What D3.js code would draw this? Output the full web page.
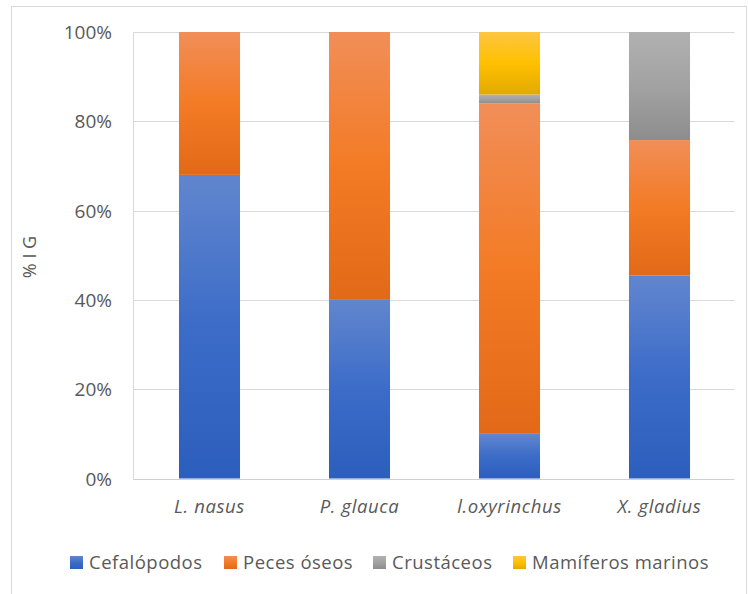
<!DOCTYPE html>
<html lang="es">
  <head>
    <meta charset="UTF-8" />
    <title>% IG por especie</title>
    <script src="https://d3js.org/d3.v7.min.js"></script>
    <style>
      body {
        margin: 0;
        background: #ffffff;
        font-family: "Open Sans", sans-serif;
      }
      text {
        fill: #595959;
      }
    </style>
  </head>
  <body>
    <svg id="chart" width="748" height="594"></svg>

    <script>
      const categories = ["L. nasus", "P. glauca", "l.oxyrinchus", "X. gladius"];
      const seriesNames = ["Cefalópodos", "Peces óseos", "Crustáceos", "Mamíferos marinos"];
      const cefalopodos = [68, 40, 10, 45.5];
      const pecesOseos = [32, 60, 74, 30.3];
      const crustaceos = [0, 0, 2, 24.2];
      const mamiferos = [0, 0, 14, 0];
      const yTicks = [0, 0.2, 0.4, 0.6, 0.8, 1];

      // gradient stops per series: light top, base middle, dark bottom
      const grads = [
        ["#6186ce", "#3c6cc8", "#2c5ebd"],
        ["#f18e58", "#f37b25", "#e26917"],
        ["#b1b1b1", "#a2a2a2", "#8d8d8d"],
        ["#fcc642", "#ffc000", "#e2aa00"],
      ];

      const rows = categories.map((c, i) => ({
        cat: c,
        s0: cefalopodos[i],
        s1: pecesOseos[i],
        s2: crustaceos[i],
        s3: mamiferos[i],
      }));

      const svg = d3.select("#chart");
      const plotL = 134.5, plotR = 734.5, plotT = 32, plotB = 478.5;

      // outer chart frame
      svg.append("rect")
        .attr("x", 11.5).attr("y", 6.5)
        .attr("width", 735).attr("height", 600)
        .attr("fill", "none").attr("stroke", "#d9d9d9");

      const defs = svg.append("defs");
      grads.forEach((g, i) => {
        const lg = defs.append("linearGradient")
          .attr("id", "g" + i)
          .attr("x1", 0).attr("y1", 0).attr("x2", 0).attr("y2", 1);
        lg.append("stop").attr("offset", "0%").attr("stop-color", g[0]);
        lg.append("stop").attr("offset", "50%").attr("stop-color", g[1]);
        lg.append("stop").attr("offset", "100%").attr("stop-color", g[2]);
      });

      const x = d3.scaleBand().domain(categories).range([plotL, plotR])
        .paddingInner(0.593).paddingOuter(0.2965);
      const y = d3.scaleLinear().domain([0, 1]).range([plotB, plotT]);

      // gridlines
      svg.append("g")
        .selectAll("line")
        .data(yTicks.filter((t) => t > 0))
        .join("line")
        .attr("x1", plotL - 1.5).attr("x2", plotR)
        .attr("y1", (d) => Math.round(y(d)) + 0.5)
        .attr("y2", (d) => Math.round(y(d)) + 0.5)
        .attr("stroke", "#d9d9d9");

      svg.append("line")
        .attr("x1", 133.5).attr("x2", 133.5)
        .attr("y1", plotT).attr("y2", plotB)
        .attr("stroke", "#d9d9d9");

      const stack = d3.stack()
        .keys(["s0", "s1", "s2", "s3"])
        .offset(d3.stackOffsetExpand);

      const layers = stack(rows);

      svg.append("g")
        .selectAll("g")
        .data(layers)
        .join("g")
        .attr("fill", (d, i) => "url(#g" + i + ")")
        .selectAll("rect")
        .data((d) => d.filter((p) => p[1] - p[0] > 0))
        .join("rect")
        .attr("x", (d) => x(d.data.cat))
        .attr("width", x.bandwidth())
        .attr("y", (d) => y(d[1]))
        .attr("height", (d) => y(d[0]) - y(d[1]));

      // baseline
      svg.append("line")
        .attr("x1", plotL - 1.5).attr("x2", plotR)
        .attr("y1", Math.round(plotB) + 0.5).attr("y2", Math.round(plotB) + 0.5)
        .attr("stroke", "#d0d0d0");

      // y tick labels
      svg.append("g")
        .selectAll("text")
        .data(yTicks)
        .join("text")
        .attr("x", 112)
        .attr("y", (d) => y(d) + 7)
        .attr("text-anchor", "end")
        .style("font-size", "19px")
        .text(d3.format(".0%"));

      // category labels
      svg.append("g")
        .selectAll("text")
        .data(categories)
        .join("text")
        .attr("x", (d) => x(d) + x.bandwidth() / 2)
        .attr("y", 513)
        .attr("text-anchor", "middle")
        .style("font-size", "18.5px")
        .style("font-style", "italic")
        .style("letter-spacing", "0.6px")
        .text((d) => d);

      // y axis title
      svg.append("text")
        .attr("transform", "translate(36,257) rotate(-90)")
        .attr("text-anchor", "middle")
        .style("font-size", "18px")
        .text("% I G");

      // legend
      const legendX = [70, 224, 373, 513];
      const legend = svg.append("g")
        .selectAll("g")
        .data(seriesNames)
        .join("g")
        .attr("transform", (d, i) => `translate(${legendX[i]},556)`);

      legend.append("rect")
        .attr("width", 13).attr("height", 13)
        .attr("fill", (d, i) => "url(#g" + i + ")");

      legend.append("text")
        .attr("x", 19).attr("y", 12.5)
        .style("font-size", "18.5px")
        .style("letter-spacing", "0.5px")
        .text((d) => d);
    </script>
  </body>
</html>
